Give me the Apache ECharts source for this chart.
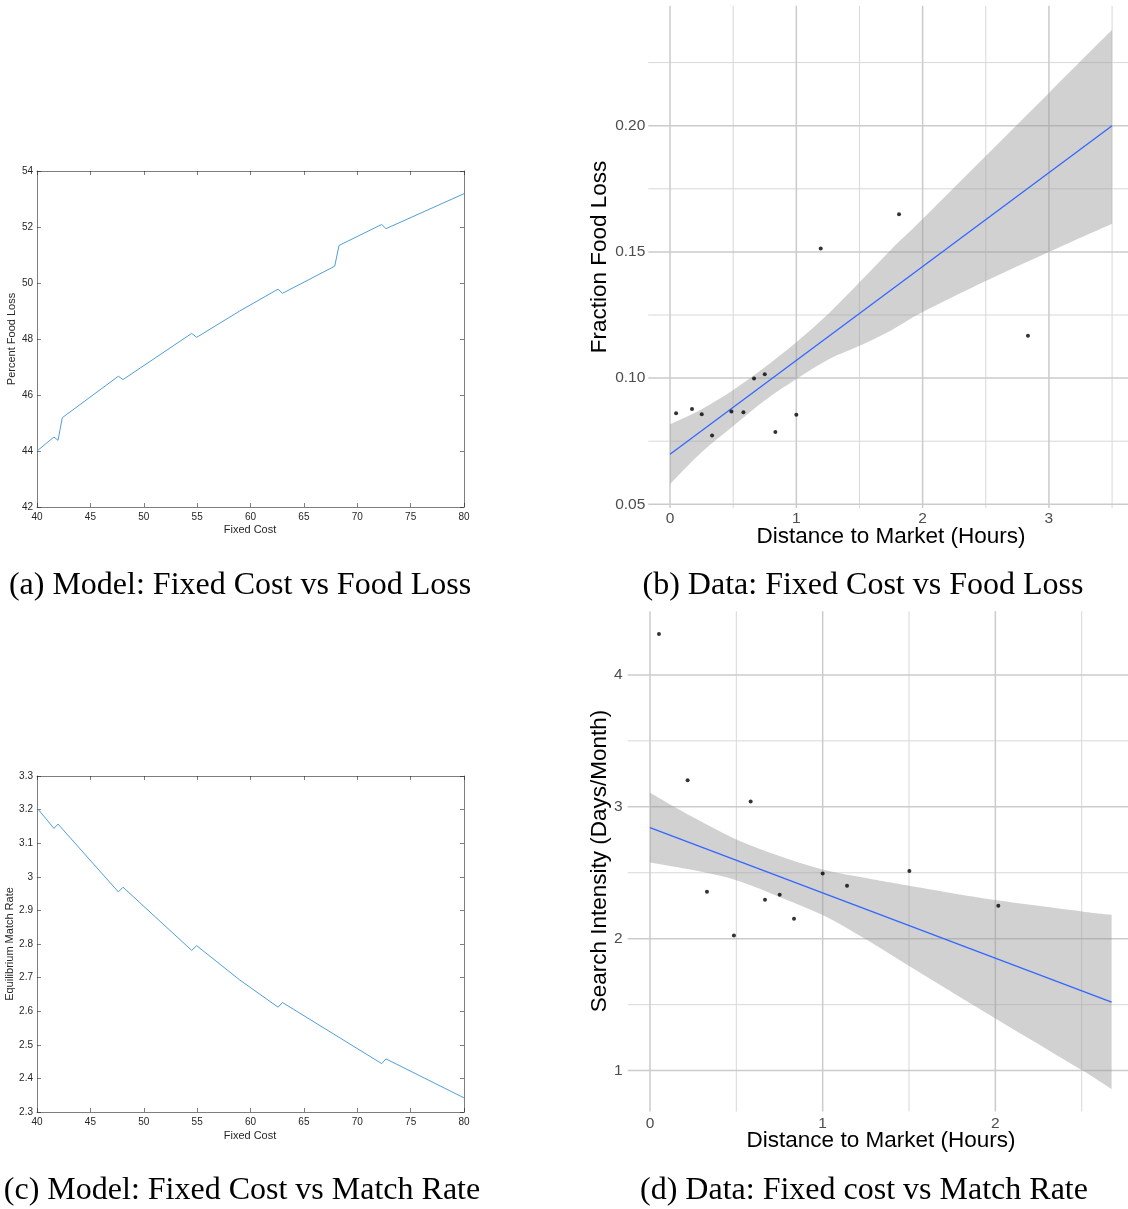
<!DOCTYPE html>
<html><head><meta charset="utf-8">
<script src="https://cdn.jsdelivr.net/npm/echarts@6/dist/echarts.min.js"></script>
<style>html,body{margin:0;padding:0;background:#fff}#c{width:1128px;height:1209px}</style>
</head><body><div id="c"></div>
<script>
// ---------- Panel (a): Model, Fixed Cost vs Percent Food Loss ----------
const fixedCostA = [40, 41.59, 41.97, 42.37, 47.62, 48.06, 54.49, 54.96, 58.99, 62.58, 62.99, 67.89, 68.29, 72.29, 72.69, 80];
const foodLossA  = [44.0, 44.50, 44.38, 45.19, 46.67, 46.55, 48.20, 48.06, 49.0, 49.78, 49.63, 50.60, 51.34, 52.09, 51.94, 53.19];

// ---------- Panel (c): Model, Fixed Cost vs Equilibrium Match Rate ----------
const fixedCostC = [40, 41.59, 41.97, 47.62, 48.06, 54.49, 54.96, 58.99, 62.58, 62.99, 72.29, 72.69, 80];
const matchRateC = [3.205, 3.144, 3.157, 2.955, 2.969, 2.781, 2.795, 2.693, 2.612, 2.626, 2.444, 2.458, 2.342];

// ---------- Panel (b): Data, Distance vs Fraction Food Loss ----------
const distB = [0.048, 0.174, 0.251, 0.333, 0.486, 0.581, 0.665, 0.750, 0.834, 1.0, 1.193, 1.813, 2.834];
const lossB = [0.0861, 0.0878, 0.0857, 0.0773, 0.0868, 0.0865, 0.0998, 0.1015, 0.0786, 0.0855, 0.1513, 0.1649, 0.1168];
const fitXB = [0, 3.5];
const fitYB = [0.0698, 0.2000];
const bandXB    = [0, 0.25, 0.5, 0.75, 1.0, 1.25, 1.5, 1.75, 2.0, 2.5, 3.0, 3.5];
const bandLowB  = [0.0580, 0.0706, 0.0810, 0.0911, 0.0996, 0.1073, 0.1128, 0.1189, 0.1262, 0.1385, 0.1500, 0.1612];
const bandHighB = [0.0817, 0.0877, 0.0953, 0.1043, 0.1142, 0.1253, 0.1380, 0.1509, 0.1630, 0.1880, 0.2130, 0.2380];
const xMajorB = [0, 1, 2, 3], xMinorB = [0.5, 1.5, 2.5, 3.5];
const yMajorB = [0.05, 0.10, 0.15, 0.20], yMinorB = [0.075, 0.125, 0.175, 0.225];

// ---------- Panel (d): Data, Distance vs Search Intensity ----------
const distD   = [0.052, 0.218, 0.330, 0.486, 0.583, 0.666, 0.751, 0.834, 1.0, 1.141, 1.502, 2.017];
const searchD = [4.311, 3.202, 2.356, 2.024, 3.040, 2.296, 2.333, 2.152, 2.495, 2.402, 2.513, 2.250];
const fitXD = [0, 2.673];
const fitYD = [2.843, 1.520];
const bandXD    = [0, 0.25, 0.5, 0.75, 1.0, 1.25, 1.5, 2.0, 2.5, 2.673];
const bandLowD  = [2.578, 2.52, 2.444, 2.317, 2.179, 1.995, 1.793, 1.396, 1.005, 0.860];
const bandHighD = [3.106, 2.92, 2.752, 2.627, 2.525, 2.46, 2.402, 2.293, 2.207, 2.182];
const xMajorD = [0, 1, 2], xMinorD = [0.5, 1.5, 2.5];
const yMajorD = [1, 2, 3, 4], yMinorD = [1.5, 2.5, 3.5];

// ---------- helpers ----------
const pairs = (xs, ys) => xs.map((x, i) => [x, ys[i]]);
const AX = '#262626';
function matX(gi, pos, showLabel) {
  return { type: 'value', gridIndex: gi, position: pos, min: 40, max: 80, interval: 5,
    axisLine: { show: true, onZero: false, lineStyle: { color: AX, width: 0.6 } },
    axisTick: { show: true, inside: true, length: 4, lineStyle: { color: AX, width: 0.6 } },
    axisLabel: { show: showLabel, color: AX, fontSize: 10, fontFamily: 'Liberation Sans', margin: 5 },
    splitLine: { show: false } };
}
function matY(gi, pos, showLabel, min, max, interval) {
  return { type: 'value', gridIndex: gi, position: pos, min, max, interval,
    axisLine: { show: true, onZero: false, lineStyle: { color: AX, width: 0.6 } },
    axisTick: { show: true, inside: true, length: 4, lineStyle: { color: AX, width: 0.6 } },
    axisLabel: { show: showLabel, color: AX, fontSize: 10, fontFamily: 'Liberation Sans', margin: 4 },
    splitLine: { show: false } };
}
function ggAxis(gi, min, max, labels, fmt, margin) {
  return { type: 'value', gridIndex: gi, min, max,
    axisLine: { show: false }, axisTick: { show: false, customValues: labels },
    axisLabel: { show: true, customValues: labels, color: '#4d4d4d', fontSize: 15.5,
      fontFamily: 'Liberation Sans', margin,
      formatter: v => labels.some(l => Math.abs(l - v) < 1e-9) ? fmt(v) : '' },
    splitLine: { show: false }, minorSplitLine: { show: false } };
}
function gridSeries(xi, yi, xMaj, xMin, yMaj, yMin, xRef, yRef) {
  const data = [];
  xMin.forEach(v => data.push([v, 0, 0]));
  yMin.forEach(v => data.push([v, 1, 0]));
  xMaj.forEach(v => data.push([v, 0, 1]));
  yMaj.forEach(v => data.push([v, 1, 1]));
  return { type: 'custom', xAxisIndex: xi, yAxisIndex: yi, z: 1, silent: true, clip: false,
    encode: { x: 0, y: 1 }, data,
    renderItem: (params, api) => {
      const v = api.value(0), o = api.value(1), m = api.value(2);
      const cs = params.coordSys;
      const style = { stroke: m ? '#cbcbcb' : '#d8d8d8', lineWidth: m ? 1.5 : 1 };
      if (o === 0) {
        const x = api.coord([v, yRef])[0];
        return { type: 'line', shape: { x1: x, y1: cs.y, x2: x, y2: cs.y + cs.height }, style };
      }
      const y = api.coord([xRef, v])[1];
      return { type: 'line', shape: { x1: cs.x, y1: y, x2: cs.x + cs.width, y2: y }, style };
    } };
}
// smooth curve through screen points (Catmull-Rom -> cubic Bezier), continuing an existing path
function curveThrough(pts) {
  let d = '';
  for (let i = 0; i < pts.length - 1; i++) {
    const p0 = pts[Math.max(i - 1, 0)], p1 = pts[i], p2 = pts[i + 1], p3 = pts[Math.min(i + 2, pts.length - 1)];
    const c1 = [p1[0] + (p2[0] - p0[0]) / 6, p1[1] + (p2[1] - p0[1]) / 6];
    const c2 = [p2[0] - (p3[0] - p1[0]) / 6, p2[1] - (p3[1] - p1[1]) / 6];
    d += ' C' + c1[0] + ',' + c1[1] + ' ' + c2[0] + ',' + c2[1] + ' ' + p2[0] + ',' + p2[1];
  }
  return d;
}
function bandSeries(xi, yi, bx, lo, hi) {
  return { type: 'custom', xAxisIndex: xi, yAxisIndex: yi, z: 2, silent: true, clip: true,
    encode: { x: 0, y: 1 }, data: [[bx[0], lo[0]]],
    renderItem: (params, api) => {
      const up = bx.map((x, i) => api.coord([x, hi[i]]));
      const dn = bx.map((x, i) => api.coord([x, lo[i]])).reverse();
      const d = 'M' + up[0][0] + ',' + up[0][1] + curveThrough(up) +
                ' L' + dn[0][0] + ',' + dn[0][1] + curveThrough(dn) + ' Z';
      return { type: 'path', shape: { pathData: d }, style: { fill: 'rgba(153,153,153,0.45)' } };
    } };
}
const txt = (x, y, text, size, family, color, rot) => ({
  type: 'text', x, y, rotation: rot || 0,
  style: { text, fontSize: size, fontFamily: family, fill: color || '#000', align: 'center', verticalAlign: 'middle' } });

const option = {
  animation: false,
  backgroundColor: '#fff',
  grid: [
    { left: 37, top: 171, width: 427, height: 336, containLabel: false, outerBoundsMode: 'none' },
    { left: 648.3, top: 5.8, width: 479.7, height: 502.3, containLabel: false, outerBoundsMode: 'none' },
    { left: 37, top: 776, width: 427, height: 336, containLabel: false, outerBoundsMode: 'none' },
    { left: 627.7, top: 611.2, width: 500.3, height: 500.3, containLabel: false, outerBoundsMode: 'none' }
  ],
  xAxis: [
    matX(0, 'bottom', true), matX(0, 'top', false),
    ggAxis(1, -0.172, 3.626, xMajorB, v => String(v), 3),
    matX(2, 'bottom', true), matX(2, 'top', false),
    ggAxis(3, -0.129, 2.768, xMajorD, v => String(v), 4)
  ],
  yAxis: [
    matY(0, 'left', true, 42, 54, 2), matY(0, 'right', false, 42, 54, 2),
    ggAxis(1, 0.0485, 0.2475, yMajorB, v => v.toFixed(2), 3),
    matY(2, 'left', true, 2.3, 3.3, 0.1), matY(2, 'right', false, 2.3, 3.3, 0.1),
    ggAxis(3, 0.69, 4.483, yMajorD, v => String(v), 5)
  ],
  series: [
    { type: 'line', xAxisIndex: 0, yAxisIndex: 0, data: pairs(fixedCostA, foodLossA), symbol: 'none',
      lineStyle: { color: '#4f9fd9', width: 1 }, z: 3 },
    { type: 'line', xAxisIndex: 3, yAxisIndex: 3, data: pairs(fixedCostC, matchRateC), symbol: 'none',
      lineStyle: { color: '#4f9fd9', width: 1 }, z: 3 },
    gridSeries(2, 2, xMajorB, xMinorB, yMajorB, yMinorB, 1, 0.1),
    bandSeries(2, 2, bandXB, bandLowB, bandHighB),
    { type: 'line', xAxisIndex: 2, yAxisIndex: 2, data: pairs(fitXB, fitYB), symbol: 'none',
      lineStyle: { color: '#3366ff', width: 1.3 }, z: 3 },
    { type: 'scatter', xAxisIndex: 2, yAxisIndex: 2, data: pairs(distB, lossB), symbolSize: 4,
      itemStyle: { color: '#000' }, z: 4 },
    gridSeries(5, 5, xMajorD, xMinorD, yMajorD, yMinorD, 1, 2),
    bandSeries(5, 5, bandXD, bandLowD, bandHighD),
    { type: 'line', xAxisIndex: 5, yAxisIndex: 5, data: pairs(fitXD, fitYD), symbol: 'none',
      lineStyle: { color: '#3366ff', width: 1.3 }, z: 3 },
    { type: 'scatter', xAxisIndex: 5, yAxisIndex: 5, data: pairs(distD, searchD), symbolSize: 4,
      itemStyle: { color: '#000' }, z: 4 }
  ],
  graphic: [
    txt(12, 339, 'Percent Food Loss', 11, 'Liberation Sans', AX, Math.PI / 2),
    txt(250, 530, 'Fixed Cost', 11, 'Liberation Sans', AX),
    txt(10, 944, 'Equilibrium Match Rate', 11, 'Liberation Sans', AX, Math.PI / 2),
    txt(250, 1136, 'Fixed Cost', 11, 'Liberation Sans', AX),
    txt(600, 257, 'Fraction Food Loss', 22.5, 'Liberation Sans', '#000', Math.PI / 2),
    txt(891, 537, 'Distance to Market (Hours)', 22.5, 'Liberation Sans', '#000'),
    txt(600, 861, 'Search Intensity (Days/Month)', 22.5, 'Liberation Sans', '#000', Math.PI / 2),
    txt(881, 1141, 'Distance to Market (Hours)', 22.5, 'Liberation Sans', '#000'),
    txt(240, 586, '(a) Model: Fixed Cost vs Food Loss', 32, 'Liberation Serif', '#000'),
    txt(863, 586, '(b) Data: Fixed Cost vs Food Loss', 32, 'Liberation Serif', '#000'),
    txt(242, 1191, '(c) Model: Fixed Cost vs Match Rate', 32, 'Liberation Serif', '#000'),
    txt(864, 1191, '(d) Data: Fixed cost vs Match Rate', 32, 'Liberation Serif', '#000')
  ]
};
const chart = echarts.init(document.getElementById('c'), null, { renderer: 'canvas' });
chart.setOption(option);
</script></body></html>
